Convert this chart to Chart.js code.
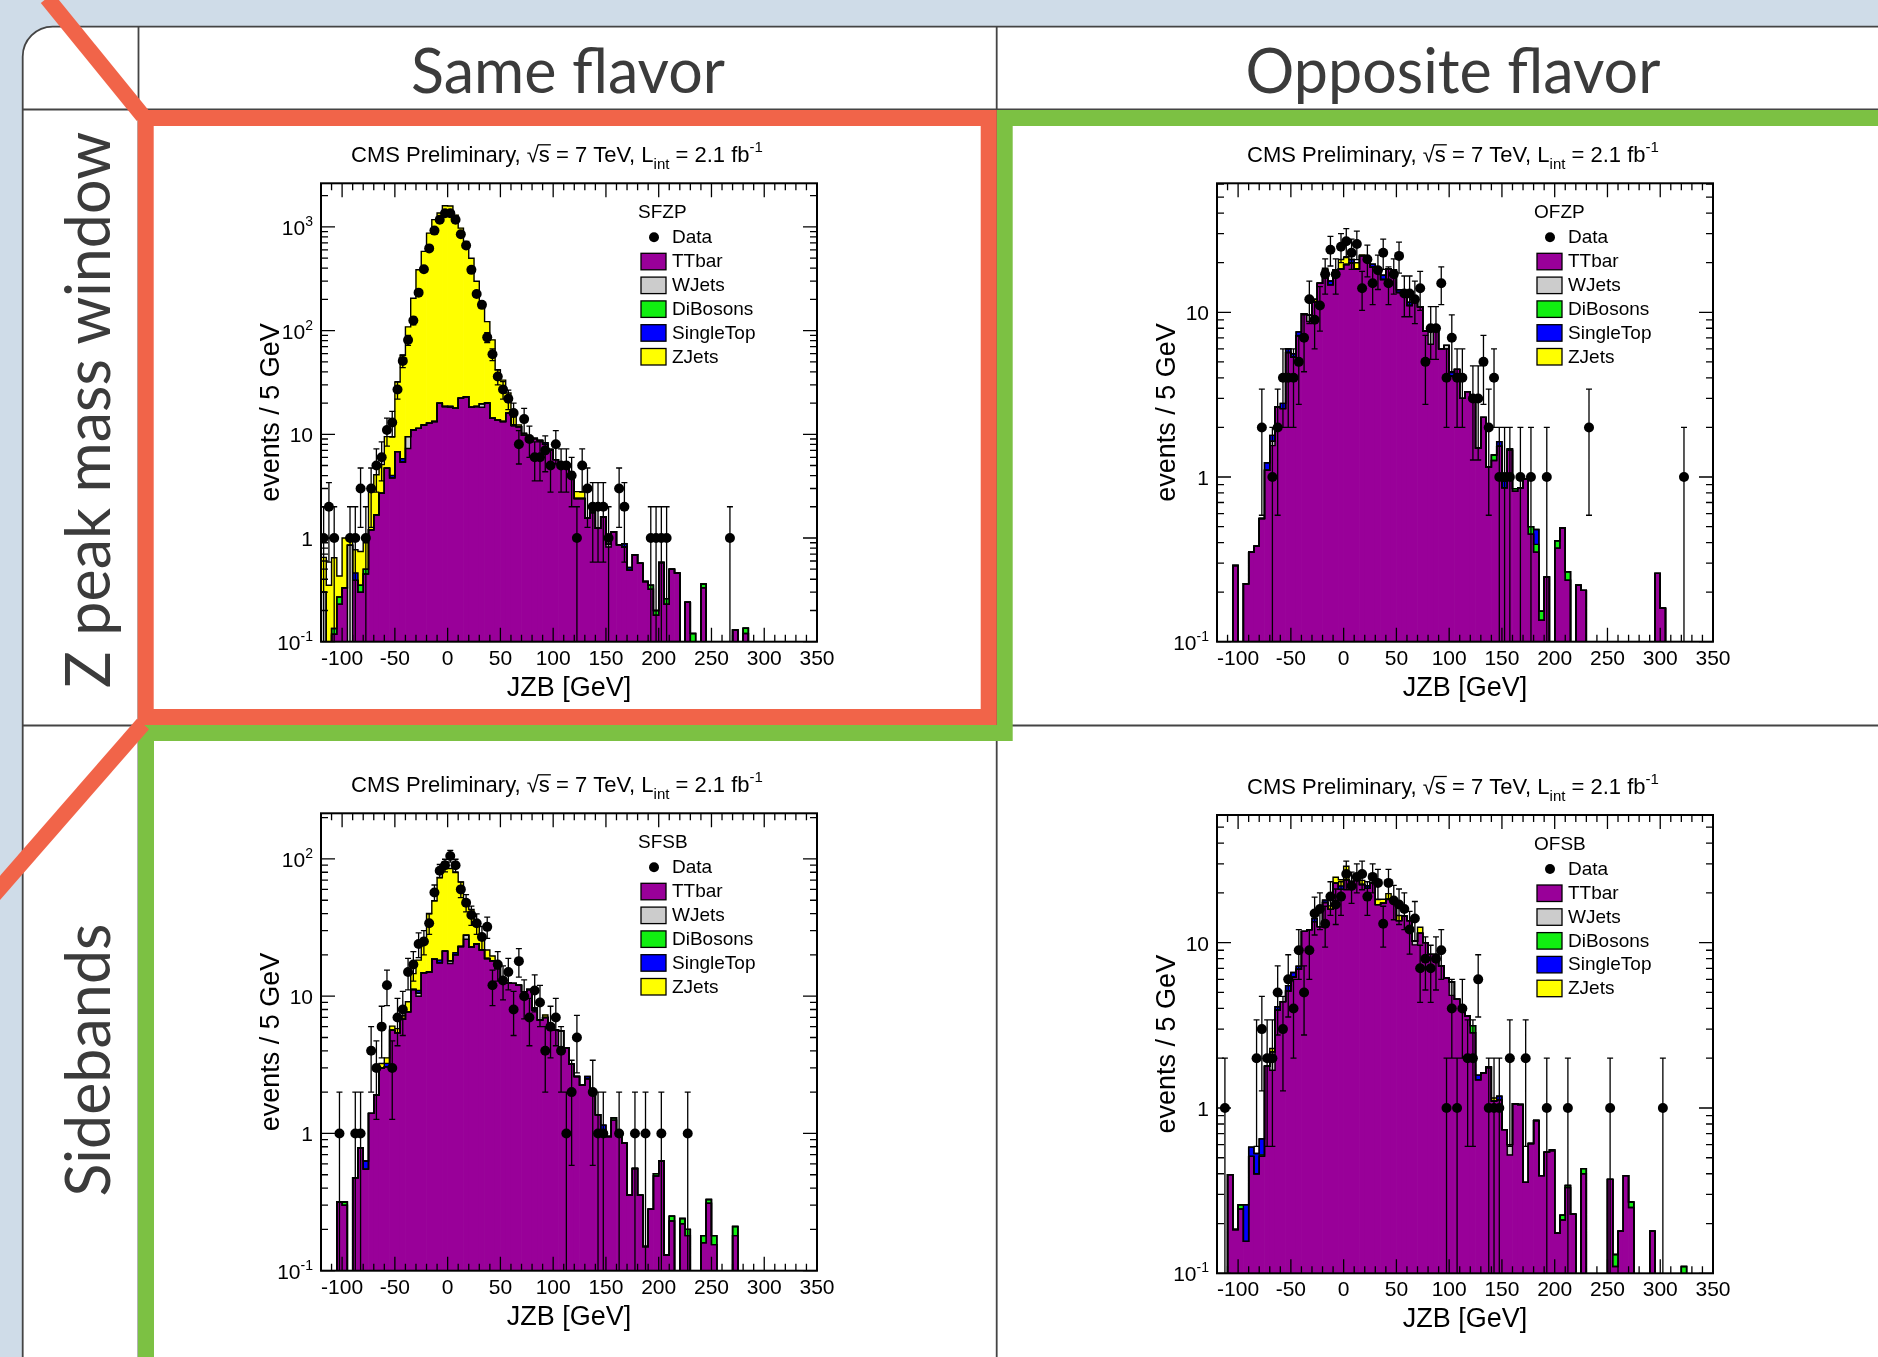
<!DOCTYPE html>
<html>
<head>
<meta charset="utf-8">
<script src="https://cdn.jsdelivr.net/npm/chart.js@4.4.1/dist/chart.umd.min.js"></script>
<style>
body { margin: 0; width: 1878px; height: 1357px; overflow: hidden; position: relative; background: #cfdce8; }
#frame { position: absolute; left: 0; top: 0; }
canvas.panel { position: absolute; }
</style>
</head>
<body>
<svg id="frame" width="1878" height="1357">
  <path d="M22.7,1400 V56.7 A30,30 0 0 1 52.7,26.7 H1900 V1400 Z" fill="#fff" stroke="#444" stroke-width="1.8"/>
  <g stroke="#444" stroke-width="1.8">
    <line x1="22.7" y1="109.5" x2="1878" y2="109.5"/>
    <line x1="138.5" y1="26.7" x2="138.5" y2="1357"/>
    <line x1="996.7" y1="26.7" x2="996.7" y2="1357"/>
    <line x1="22.7" y1="725.5" x2="1878" y2="725.5"/>
  </g>
  <polyline points="1890,118 1004.7,118 1004.7,733 146,733 146,1370" fill="none" stroke="#7cc143" stroke-width="16"/>
  <rect x="145.7" y="118" width="843" height="599" fill="none" stroke="#f16449" stroke-width="16"/>
  <line x1="47" y1="-2" x2="143" y2="116" stroke="#f16449" stroke-width="16"/>
  <line x1="143" y1="724" x2="-8" y2="897" stroke="#f16449" stroke-width="16"/>
  <g font-family="Lato, 'Open Sans', sans-serif" font-size="61" fill="#3b3b3b" text-anchor="middle">
    <text x="568" y="93">Same flavor</text>
    <text x="1453" y="93">Opposite flavor</text>
    <text transform="translate(110,410) rotate(-90)">Z peak mass window</text>
    <text transform="translate(110,1060) rotate(-90)">Sidebands</text>
  </g>
</svg>
<script>
// binning: 5 GeV bins from -120 to 350
const BIN_LO = -120
const BIN_W = 5
const N_BINS = 94
const binCenters = Array.from({length: N_BINS}, (_, i) => BIN_LO + BIN_W * (i + 0.5))
const xTickLabels = [-100, -50, 0, 50, 100, 150, 200, 250, 300, 350]
const legendNames = ["TTbar", "WJets", "DiBosons", "SingleTop", "ZJets"]
const stackColors = ["#990099", "#cccccc", "#11ee11", "#0000ff", "#ffff00"]

// ---- SFZP (same flavor, Z peak) ----
const sfzpTTbar = [
  0, 0, 0.118, 0.23, 0.33, 0, 0.39, 0.30, 0.45, 1.2,
  1.67, 2.7, 4.7, 3.8, 6.8, 5.4, 7.3, 11, 11.4, 12.3,
  12.8, 13.3, 19.9, 18.5, 18.2, 17.8, 22.3, 23, 18.2, 18.5,
  18.2, 20, 14.3, 13.7, 13.3, 16, 12.3, 11.8, 9.8, 9.5,
  9.1, 8.7, 8.0, 7.1, 5.7, 5.0, 4.9, 4.0, 2.4, 2.4,
  1.55, 1.75, 1.24, 1.6, 0.82, 1.15, 0.86, 0.82, 0.49, 0.69,
  0.57, 0.38, 0.32, 0.18, 0.58, 0.23, 0.5, 0.46, 0, 0.24,
  0.05, 0, 0.33, 0, 0, 0, 0, 0, 0.13, 0,
  0.12]
const sfzpWJets = [
  0.3, 0, 0, 0, 0, 0.85, 0, 0, 0, 0,
  0, 0, 0, 0, 0, 0, 2.2, 0, 0, 0,
  0, 0, 0, 0, 0, 0, 0, 0, 0, 0,
  1.5, 0, 0, 0, 0, 0, 0, 0, 0, 0,
  0, 0, 0, 0, 0, 0, 0, 0, 0, 0,
  0, 0, 0, 0, 0.05]
const sfzpDiBosons = [
  0, 0, 0.016, 0.04, 0, 0, 0, 0.05, 0.05, 0,
  0, 0, 0, 0, 0, 0, 0, 0, 0, 0,
  0, 0, 0, 0, 0, 0, 0, 0, 0, 0,
  0, 0, 0, 0, 0, 0, 0, 0, 0, 0,
  0, 0, 0, 0, 0, 0, 0, 0, 0, 0,
  0, 0.08, 0, 0, 0, 0, 0, 0, 0, 0,
  0, 0, 0.03, 0.02, 0, 0.03, 0, 0, 0, 0,
  0.07, 0, 0.03, 0, 0, 0, 0, 0, 0, 0,
  0.015]
const sfzpSingleTop = [
  0, 0, 0, 0, 0, 0, 0.07, 0, 0, 0,
  0, 0, 0, 0.2, 0, 0.4, 0, 0, 0, 0,
  0, 0, 0, 0, 0.5, 0, 0, 0, 0, 0,
  0, 0, 0, 0, 0, 0, 0, 0, 0, 0,
  0, 0, 0.3, 0, 0, 0.2, 0, 0, 0, 0,
  0, 0, 0, 0, 0, 0, 0, 0.06, 0.03]
const sfzpZJets = [
  0.35, 0.35, 0.51, 0.16, 0.67, 0.1, 0.31, 0.39, 0.4, 1.6,
  2.4, 2.4, 4.8, 5.5, 25, 52, 99, 194, 374, 568,
  857, 1160, 1340, 1580, 1570, 1280, 950, 700, 480, 280,
  163, 102, 67, 28, 20, 9, 4.7, 0.5, 0.4, 0,
  0, 0, 0, 0, 0, 0, 0, 0.3, 0.4, 0.4]
const sfzpData = [
  1, 2, 1, 0, 0, 1, 1, 3, 1, 3,
  5, 6, 11, 13, 27, 51, 81, 125, 232, 390,
  620, 920, 1170, 1350, 1350, 1170, 850, 660, 385, 225,
  177, 86, 59, 36, 27, 22, 16, 8, 14, 9,
  6, 6, 7, 5, 8, 5, 5, 4, 1, 5,
  3, 2, 2, 2, 1, 0, 3, 2, 0, 0,
  0, 0, 1, 1, 1, 1, 0, 0, 0, 0,
  0, 0, 0, 0, 0, 0, 0, 1]

// ---- OFZP (opposite flavor, Z peak) ----
const ofzpTTbar = [
  0, 0, 0, 0.29, 0, 0.225, 0.35, 0.38, 0.56, 1.1,
  1.55, 2.66, 2.6, 5.7, 5.35, 7.2, 9.8, 8.8, 11.6, 15,
  18, 14.7, 18.1, 18.3, 19.5, 19.9, 18.3, 22, 21.4, 18.8,
  18.6, 15.8, 18.3, 18.1, 13.2, 13.4, 11, 11.6, 10.8, 7.7,
  6.4, 8.3, 6.0, 6.0, 4.1, 4.5, 3.0, 3.3, 3.1, 1.5,
  2.3, 1.15, 1.26, 1.54, 0.86, 1.45, 0.82, 0.86, 0.97, 0.45,
  0.35, 0.135, 0.247, 0, 0.37, 0.49, 0.236, 0, 0.22, 0.205,
  0, 0, 0, 0, 0, 0, 0, 0, 0, 0,
  0, 0, 0, 0.26, 0.16]
const ofzpWJets = [
  0, 0, 0, 0, 0, 0, 0, 0, 0, 0,
  0.1, 0, 0, 0, 0, 0, 0, 0.8, 0, 0,
  0, 0, 0, 0, 0, 0, 0, 0, 0, 0,
  0, 0, 0, 0, 0, 0, 0, 0, 0, 0,
  1.3, 0, 0, 0.3]
const ofzpDiBosons = [
  0, 0, 0, 0, 0, 0, 0, 0, 0, 0,
  0, 0, 0, 0, 0, 0, 0, 0, 0, 0,
  0, 0, 0, 0, 0, 0, 0, 0, 0, 0,
  0, 0, 0, 0, 0, 0, 0, 0, 0, 0,
  0, 0, 0, 0, 0, 0, 0, 0, 0, 0,
  0, 0, 0.1, 0, 0, 0.03, 0.03, 0, 0, 0.05,
  0.04, 0.018, 0, 0, 0.04, 0, 0.03]
const ofzpSingleTop = [
  0, 0, 0, 0, 0, 0, 0, 0, 0, 0.12,
  0.14, 0, 0.2, 0.3, 0.25, 0.4, 0, 0, 0, 0,
  0, 0.8, 0, 0, 0, 1.0, 0, 0, 0, 0.8,
  0, 1.0, 0, 0, 0.5, 0, 0.5, 0.5, 0, 0,
  0, 0, 0, 0, 0.2, 0, 0, 0, 0, 0,
  0, 0, 0, 0.1, 0.08, 0, 0, 0, 0, 0,
  0.09]
const ofzpZJets = [
  0, 0, 0, 0, 0, 0, 0, 0, 0, 0,
  0, 0, 0, 0, 0, 0, 0, 0, 0.4, 0,
  0.5, 0, 0, 2.6, 2.0, 0, 1.7, 0.3]
const ofzpData = [
  0, 0, 0, 0, 0, 0, 0, 0, 2, 0,
  1, 2, 4, 4, 4, 5, 7, 12, 9, 11,
  17, 24, 17, 25, 27, 23, 26, 14, 21, 15,
  18, 23, 15, 17, 22, 13, 13, 12, 14, 5,
  8, 8, 15, 4, 7, 4, 4, 0, 3, 3,
  5, 2, 4, 1, 1, 1, 0, 1, 0, 1,
  0, 0, 1, 0, 0, 0, 0, 0, 0, 0,
  2, 0, 0, 0, 0, 0, 0, 0, 0, 0,
  0, 0, 0, 0, 0, 0, 0, 0, 1]

// ---- SFSB (same flavor, sidebands) ----
const sfsbTTbar = [
  0, 0, 0, 0.317, 0.30, 0, 0.475, 0.786, 0.55, 1.4,
  1.9, 3.0, 3.06, 5.65, 5.4, 6.8, 7.7, 11.2, 10, 14.8,
  15, 18.6, 17.5, 21.3, 17.3, 20, 23, 26, 22.8, 24,
  21.7, 18.8, 18.1, 15.9, 12.5, 12.5, 12.4, 12, 10.8, 11.2,
  7.9, 6.7, 7, 6.0, 5.7, 4.1, 4.2, 3.2, 2.6, 2.25,
  2.5, 1.98, 1.37, 1.05, 0.95, 1.25, 0.96, 0.85, 0.355, 0.555,
  0.355, 0.15, 0.28, 0.49, 0.63, 0.13, 0.23, 0, 0.22, 0.18,
  0, 0, 0.16, 0.31, 0.155, 0, 0, 0, 0.18]
const sfsbWJets = [
  0, 0, 0, 0, 0, 0, 0, 0, 0, 0,
  0, 0, 0, 0, 0, 0, 0, 0, 0.5, 0,
  0, 0, 0, 0, 0.8, 0, 0, 1.8, 0, 0,
  0, 0, 0, 0, 1.0, 0, 0, 0, 0, 0,
  0, 0, 0, 0, 0, 1.5]
const sfsbDiBosons = [
  0, 0, 0, 0, 0.017, 0, 0, 0, 0, 0,
  0, 0, 0, 0, 0, 0, 0, 0, 0, 0,
  0, 0, 0, 0, 0, 0, 0, 0, 0, 0,
  0, 0, 0, 0, 0, 0, 0, 0, 0, 0,
  0, 0, 0, 0, 0, 0, 0, 0, 0, 0,
  0, 0, 0, 0, 0, 0.05, 0, 0, 0, 0,
  0, 0, 0, 0.02, 0, 0, 0.02, 0, 0.02, 0.02,
  0, 0, 0.02, 0.02, 0.025, 0, 0, 0, 0.03]
const sfsbSingleTop = [
  0, 0, 0, 0, 0, 0, 0, 0, 0.08, 0,
  0, 0, 0.18, 0, 0, 0, 0, 0, 0.5, 0,
  0, 0, 0.8, 0, 0, 0.7, 0, 0, 0, 0,
  0, 0, 0, 0, 0, 0, 0, 0, 0, 0,
  0.3, 0, 0, 0, 0, 0, 0, 0, 0, 0,
  0.1, 0, 0, 0.1]
const sfsbZJets = [
  0, 0, 0, 0, 0, 0, 0, 0, 0, 0,
  0, 0.23, 0.31, 0.4, 0.4, 0.4, 1.4, 3.4, 7.3, 11.7,
  25, 31, 55, 74, 67, 59, 45, 21, 20, 9,
  4, 2.9, 1.5, 0.6, 0, 0, 0, 0, 0, 0,
  0, 0, 0.3]
const sfsbData = [
  0, 0, 0, 1, 0, 0, 1, 1, 0, 4,
  3, 6, 12, 3, 7, 8, 15, 17, 24, 25,
  34, 57, 82, 90, 105, 90, 60, 48, 39, 34,
  27, 32, 12, 17, 13, 15, 8, 18, 10, 7,
  11, 9, 4, 6, 7, 4, 1, 2, 5, 0,
  0, 2, 1, 1, 0, 0, 1, 0, 0, 1,
  0, 1, 0, 0, 1, 0, 0, 0, 0, 1]

// ---- OFSB (opposite flavor, sidebands) ----
const ofsbTTbar = [
  0, 0, 0.395, 0.184, 0.245, 0.156, 0.51, 0.40, 0.51, 1.79,
  1.69, 3.9, 4.4, 5.1, 6.2, 6.9, 11.7, 12, 13.4, 12.5,
  17.5, 15.9, 22.9, 21, 24, 23, 25, 22.5, 21.3, 23,
  17, 17.3, 18.3, 18.2, 13.6, 14.5, 13.6, 9.7, 11.4, 10,
  8.5, 8.5, 7.25, 6.1, 4.8, 4.55, 4.0, 3.6, 2.85, 1.48,
  1.63, 1.75, 1.1, 1.12, 0.74, 0.52, 1.06, 1.05, 0.355, 0.61,
  0.84, 0.39, 0.54, 0.55, 0.175, 0.21, 0.33, 0.228, 0, 0.40,
  0, 0, 0, 0, 0.37, 0.11, 0.18, 0.39, 0.25, 0,
  0, 0, 0.18]
const ofsbWJets = [
  0, 0, 0, 0, 0, 0, 0, 0, 0, 0,
  0.5, 0, 0, 0, 0, 0, 0, 0, 0, 0,
  0, 0, 0, 0, 0, 0.5, 0, 0, 0, 0,
  0, 0, 0, 0, 0, 0, 0, 0.5, 0, 0,
  0, 0, 0, 0, 1.0, 0, 0, 0, 0, 0,
  0, 0, 0, 0, 0, 0.08]
const ofsbDiBosons = [
  0, 0, 0, 0, 0.015, 0, 0, 0, 0.01, 0,
  0, 0, 0, 0, 0, 0, 0, 0, 0, 0,
  0, 0, 0, 0, 0, 0, 0, 0, 0, 0,
  0, 0, 0, 0, 0, 0, 0, 0, 0, 0,
  0, 0, 0, 0, 0, 0, 0, 0, 0.3, 0,
  0, 0.03, 0, 0, 0, 0, 0, 0, 0, 0,
  0, 0, 0, 0.01, 0, 0.015, 0.01, 0, 0, 0.03,
  0, 0, 0, 0, 0, 0.02, 0, 0, 0.02, 0,
  0, 0, 0, 0, 0, 0, 0, 0, 0.11]
const ofsbSingleTop = [
  0, 0, 0, 0, 0, 0.104, 0.07, 0.13, 0.13, 0,
  0, 0.2, 0, 0.4, 0.4, 0.3, 0, 0, 0.6, 0,
  0.6, 0, 0, 1.0, 0, 0, 0, 0, 0.8, 0,
  0, 0, 0, 0, 0, 0, 0, 0, 0, 0,
  0, 0, 0, 0, 0, 0, 0, 0, 0, 0.1,
  0, 0, 0, 0.06]
const ofsbZJets = [
  0, 0, 0, 0, 0, 0, 0, 0, 0, 0,
  0.1, 0, 0, 0, 0, 0, 0, 0, 0, 0,
  0, 0.8, 2.0, 2.0, 5.0, 0, 0, 1.3, 0, 0,
  1.3, 1.0, 1.5, 0, 1.0, 0, 0, 0, 1.0, 0,
  0, 0, 0, 0, 0, 0, 0, 0, 0, 0,
  0, 0, 0.05]
const ofsbData = [
  0, 1, 0, 0, 0, 0, 0, 2, 3, 2,
  2, 5, 3, 6, 4, 9, 5, 9, 15, 16,
  13, 19, 17, 19, 26, 22, 25, 26, 19, 25,
  23, 13, 23, 18, 17, 16, 12, 14, 7, 8,
  7, 8, 9, 1, 4, 1, 4, 2, 2, 6,
  0, 1, 1, 1, 0, 2, 0, 0, 2, 0,
  0, 0, 1, 0, 0, 0, 1, 0, 0, 0,
  0, 0, 0, 0, 1, 0, 0, 0, 0, 0,
  0, 0, 0, 0, 1]

// panel layout: canvas box and plot (frame) box in page pixels
const panels = [
  { name: "SFZP", canvas: [154, 126, 827, 583], plot: [321, 183.3, 817, 641.7], yMax: 2630,
    stack: [sfzpTTbar, sfzpWJets, sfzpDiBosons, sfzpSingleTop, sfzpZJets], data: sfzpData },
  { name: "OFZP", canvas: [1013, 126, 865, 599], plot: [1217, 183.3, 1713, 641.7], yMax: 60.7,
    stack: [ofzpTTbar, ofzpWJets, ofzpDiBosons, ofzpSingleTop, ofzpZJets], data: ofzpData },
  { name: "SFSB", canvas: [154, 741, 842, 616], plot: [321, 813.3, 817, 1270.7], yMax: 215,
    stack: [sfsbTTbar, sfsbWJets, sfsbDiBosons, sfsbSingleTop, sfsbZJets], data: sfsbData },
  { name: "OFSB", canvas: [1013, 741, 865, 616], plot: [1217, 815, 1713, 1273.3], yMax: 59.2,
    stack: [ofsbTTbar, ofsbWJets, ofsbDiBosons, ofsbSingleTop, ofsbZJets], data: ofsbData }
]

const FONT = "'Liberation Sans', Arial, Helvetica, sans-serif"
const FLOOR = 1e-3

function font(px) {
  return px + "px " + FONT
}

// title with sqrt(s), subscript and superscript
function drawTitle(ctx, cx, base) {
  const parts = [
    {t: "CMS Preliminary, ", f: 22, dy: 0},
    {t: "\u221A", f: 22, dy: 0},
    {t: "s", f: 22, dy: 0, over: true},
    {t: " = 7 TeV, L", f: 22, dy: 0},
    {t: "int", f: 15, dy: 7},
    {t: " = 2.1 fb", f: 22, dy: 0},
    {t: "-1", f: 15, dy: -10}
  ]
  var total = 0
  for (const p of parts) {
    ctx.font = font(p.f)
    p.w = ctx.measureText(p.t).width
    total += p.w
  }
  var x = cx - total / 2
  ctx.textAlign = "left"
  ctx.textBaseline = "alphabetic"
  for (const p of parts) {
    ctx.font = font(p.f)
    ctx.fillText(p.t, x, base + p.dy)
    if (p.over) {
      ctx.lineWidth = 1.3
      ctx.beginPath()
      ctx.moveTo(x - 1, base - 17.5)
      ctx.lineTo(x + p.w + 1, base - 17.5)
      ctx.stroke()
    }
    x += p.w
  }
}

function makeRootPlugin(p) {
  return {
    id: "root" + p.name,
    afterDatasetsDraw(chart) {
      const ctx = chart.ctx
      const a = chart.chartArea
      const xs = chart.scales.x
      const ys = chart.scales.y
      ctx.save()
      ctx.strokeStyle = "#000"
      ctx.fillStyle = "#000"

      // data error bars (sqrt N)
      ctx.lineWidth = 1.3
      ctx.beginPath()
      p.data.forEach(function(n, i) {
        if (!n) return
        const x = xs.getPixelForValue(binCenters[i])
        const e = Math.sqrt(n)
        var yHi = ys.getPixelForValue(n + e)
        var yLo = n - e > 0 ? ys.getPixelForValue(n - e) : a.bottom
        const capHi = yHi >= a.top
        const capLo = n - e > 0 && yLo < a.bottom - 1
        yHi = Math.max(yHi, a.top)
        yLo = Math.min(yLo, a.bottom)
        ctx.moveTo(x, yLo)
        ctx.lineTo(x, yHi)
        if (capHi) { ctx.moveTo(x - 3, yHi); ctx.lineTo(x + 3, yHi) }
        if (capLo) { ctx.moveTo(x - 3, yLo); ctx.lineTo(x + 3, yLo) }
      })
      ctx.stroke()

      // frame
      ctx.lineWidth = 2
      ctx.strokeRect(a.left, a.top, a.right - a.left, a.bottom - a.top)

      // inward ticks on all four sides
      ctx.lineWidth = 1.3
      ctx.beginPath()
      for (var v = -110; v <= 340; v += 10) {
        const x = xs.getPixelForValue(v)
        const len = v % 50 === 0 ? 14 : 7
        ctx.moveTo(x, a.bottom); ctx.lineTo(x, a.bottom - len)
        ctx.moveTo(x, a.top); ctx.lineTo(x, a.top + len)
      }
      for (var d = -1; Math.pow(10, d) <= p.yMax; d++) {
        for (var k = 1; k <= 9; k++) {
          const val = k * Math.pow(10, d)
          if (val > p.yMax) break
          const y = ys.getPixelForValue(val)
          const len = k === 1 ? 14 : 7
          ctx.moveTo(a.left, y); ctx.lineTo(a.left + len, y)
          ctx.moveTo(a.right, y); ctx.lineTo(a.right - len, y)
        }
      }
      ctx.stroke()

      // y tick labels
      ctx.textBaseline = "alphabetic"
      for (var d = -1; Math.pow(10, d) <= p.yMax; d++) {
        const y = ys.getPixelForValue(Math.pow(10, d)) + 8
        const right = a.left - 8
        ctx.textAlign = "right"
        if (d === 0 || d === 1) {
          ctx.font = font(21)
          ctx.fillText(d === 0 ? "1" : "10", right, y)
        } else {
          ctx.font = font(14)
          const sup = String(d)
          const sw = ctx.measureText(sup).width
          ctx.fillText(sup, right, y - 9)
          ctx.font = font(21)
          ctx.fillText("10", right - sw, y)
        }
      }

      // x tick labels
      ctx.font = font(21)
      ctx.textAlign = "center"
      for (const t of xTickLabels) {
        ctx.fillText(String(t), xs.getPixelForValue(t), a.bottom + 23)
      }

      // axis titles
      ctx.font = font(27)
      ctx.fillText("JZB [GeV]", (a.left + a.right) / 2, a.bottom + 54)
      ctx.save()
      ctx.translate(a.left - 42, (a.top + a.bottom) / 2)
      ctx.rotate(-Math.PI / 2)
      ctx.fillText("events / 5 GeV", 0, 0)
      ctx.restore()

      // title
      drawTitle(ctx, (a.left + a.right) / 2 - 12, a.top - 21)

      // legend
      const lx = a.left
      const ly = a.top
      ctx.textAlign = "left"
      ctx.font = font(19)
      ctx.fillText(p.name, lx + 317, ly + 35)
      ctx.beginPath()
      ctx.arc(lx + 333, ly + 54, 5, 0, Math.PI * 2)
      ctx.fill()
      ctx.fillText("Data", lx + 351, ly + 60)
      legendNames.forEach(function(name, j) {
        const top = ly + 70 + 23.8 * j
        ctx.fillStyle = stackColors[j]
        ctx.fillRect(lx + 320, top, 25, 16.5)
        ctx.lineWidth = 1.3
        ctx.strokeRect(lx + 320, top, 25, 16.5)
        ctx.fillStyle = "#000"
        ctx.fillText(name, lx + 351, top + 14)
      })
      ctx.restore()
    }
  }
}

function buildPanel(p) {
  const cv = document.createElement("canvas")
  cv.className = "panel"
  cv.width = p.canvas[2]
  cv.height = p.canvas[3]
  cv.style.left = p.canvas[0] + "px"
  cv.style.top = p.canvas[1] + "px"
  document.body.appendChild(cv)

  // cumulative sums of the stack, bottom (TTbar) to top (ZJets)
  const cum = []
  var run = new Array(N_BINS).fill(0)
  p.stack.forEach(function(arr) {
    run = run.map((v, i) => v + (arr[i] || 0))
    cum.push(run.slice())
  })

  const datasets = []
  datasets.push({
    type: "line",
    label: "Data",
    data: p.data.map((n, i) => ({x: binCenters[i], y: n})).filter(pt => pt.y > 0),
    showLine: false,
    pointRadius: 5,
    pointHoverRadius: 5,
    pointBackgroundColor: "#000",
    pointBorderWidth: 0,
    order: 0
  })
  cum.forEach(function(c, k) {
    const edges = c.map((v, i) => ({x: BIN_LO + BIN_W * i, y: Math.max(v, FLOOR)}))
    edges.push({x: BIN_LO + BIN_W * N_BINS, y: Math.max(c[N_BINS - 1], FLOOR)})
    datasets.push({
      type: "line",
      label: legendNames[k] + " outline",
      data: edges,
      stepped: "before",
      borderColor: "#000",
      borderWidth: 1.4,
      pointRadius: 0,
      fill: false,
      order: 1
    })
  })
  cum.forEach(function(c, k) {
    datasets.push({
      type: "bar",
      label: legendNames[k],
      data: c.map((v, i) => ({x: binCenters[i], y: v > 0 ? v : null})),
      backgroundColor: stackColors[k],
      borderWidth: 0,
      grouped: false,
      barPercentage: 1,
      categoryPercentage: 1,
      order: 2
    })
  })

  const c = p.canvas
  const pl = p.plot
  new Chart(cv, {
    type: "bar",
    data: {datasets: datasets},
    options: {
      responsive: false,
      animation: false,
      events: [],
      layout: {
        padding: {
          left: pl[0] - c[0],
          top: pl[1] - c[1],
          right: c[0] + c[2] - pl[2],
          bottom: c[1] + c[3] - pl[3]
        }
      },
      scales: {
        x: {type: "linear", min: BIN_LO, max: BIN_LO + BIN_W * N_BINS, offset: false, display: false},
        y: {type: "logarithmic", min: 0.1, max: p.yMax, display: false}
      },
      plugins: {legend: {display: false}, tooltip: {enabled: false}}
    },
    plugins: [makeRootPlugin(p)]
  })
}

panels.forEach(buildPanel)
</script>
</body>
</html>
